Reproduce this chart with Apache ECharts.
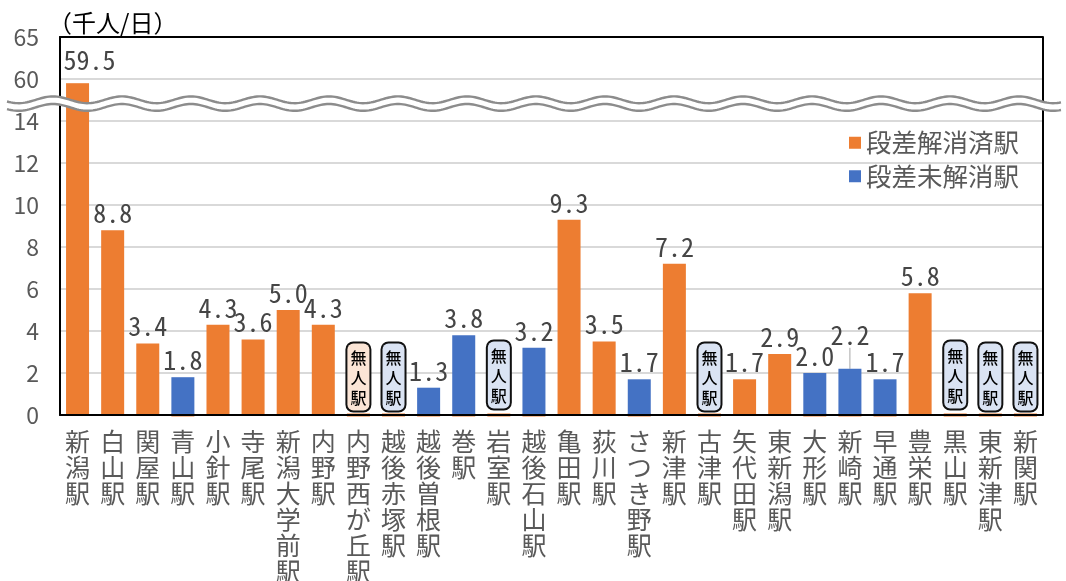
<!DOCTYPE html>
<html><head><meta charset="utf-8">
<script src="https://cdn.jsdelivr.net/npm/echarts@6/dist/echarts.min.js"></script>
<style>html,body{margin:0;padding:0;background:#fff}#c{width:1066px;height:581px}</style>
</head><body><div id="c"></div>
<script>
const stations = ['新潟駅','白山駅','関屋駅','青山駅','小針駅','寺尾駅','新潟大学前駅','内野駅','内野西が丘駅','越後赤塚駅','越後曽根駅','巻駅','岩室駅','越後石山駅','亀田駅','荻川駅','さつき野駅','新津駅','古津駅','矢代田駅','東新潟駅','大形駅','新崎駅','早通駅','豊栄駅','黒山駅','東新津駅','新関駅'];
const resolved   = [59.5,8.8,3.4,0,4.3,3.6,5.0,4.3,0,0,0,0,0,0,9.3,3.5,0,7.2,0,1.7,2.9,0,0,0,5.8,0,0,0];
const unresolved = [0,0,0,1.8,0,0,0,0,0,0,1.3,3.8,0,3.2,0,0,1.7,0,0,0,0,2.0,2.2,1.7,0,0,0,0];
const unstaffedResolved = ['内野西が丘駅'];
const unstaffedUnresolved = ['越後赤塚駅','岩室駅','古津駅','黒山駅','東新津駅','新関駅'];
const labelNudge = {'新潟駅':[12,-6],'新崎駅':[0,-17],'岩室駅':[0,-2],'黒山駅':[0,-2]};
const ORANGE='#ed7d31', BLUE='#4472c4', TXT='#595959';
const FONT='"Noto Sans CJK JP","Noto Sans",sans-serif';
const NUMFONT='"Noto Sans Mono CJK JP","Noto Sans CJK JP",monospace';
const chart = echarts.init(document.getElementById('c'),null,{renderer:'canvas'});

const L=60,R=1043,T=37,M=121,B=415;
function wave(yc){const pts=[];for(let x=7;x<=1062;x+=2){pts.push([x,yc-3.4*Math.cos((x-53)/69*2*Math.PI)]);}return pts;}
const waveUp=wave(99.8), waveLo=wave(107.4);

function fmtValue(lo,hi){return p=>{const v=p.value; return (v>0&&v>=lo&&v<=hi)?v.toFixed(1):'';};}
function badge(bg){return {show:true,position:'top',distance:3,formatter:'無\n人\n駅',color:'#000',fontSize:16,fontWeight:500,lineHeight:20,fontFamily:FONT,
  backgroundColor:bg,borderColor:'#111',borderWidth:2,borderRadius:6,padding:[4,3,3,3]};}
const valLabel=(lo,hi)=>({show:true,position:'top',distance:4,formatter:fmtValue(lo,hi),color:'#454545',fontSize:26,fontWeight:'normal',fontFamily:NUMFONT});
const layout=p=>{const n=labelNudge[stations[p.dataIndex]];return n?{dx:n[0],dy:n[1]}:{};};

const zeroStrip={color:ORANGE,borderColor:ORANGE,borderWidth:3};
const lowerResolved=resolved.map((v,i)=>{
  if(unstaffedResolved.includes(stations[i])) return {value:v,label:badge('#fbe5d6'),itemStyle:zeroStrip};
  if(unstaffedUnresolved.includes(stations[i])) return {value:v,label:badge('#dae3f3'),itemStyle:zeroStrip};
  return v===0?{value:v,itemStyle:zeroStrip}:v;});
const lowerUnresolved=unresolved.map((v,i)=>{
  if(!(v>0)) return null;
  return labelNudge[stations[i]]?{value:v,labelLine:{show:true,lineStyle:{color:'#a6a6a6',width:1}}}:v;});

const sharedBar={type:'bar',barWidth:23,barGap:'-100%',animation:false};
const xAx=(gi,extra)=>Object.assign({type:'category',gridIndex:gi,data:stations,axisTick:{show:false},z:6},extra);

chart.setOption({
  backgroundColor:'#fff',
  animation:false,
  textStyle:{fontFamily:FONT},
  title:{text:'（千人/日）',left:43,top:6,textStyle:{fontSize:24,fontWeight:'normal',color:'#000',fontFamily:FONT}},
  legend:{orient:'vertical',left:844,top:125,itemWidth:12,itemHeight:12,itemGap:8,icon:'rect',selectedMode:false,
    textStyle:{fontSize:25.5,color:TXT,fontFamily:FONT},data:['段差解消済駅','段差未解消駅']},
  grid:[
    {left:L,right:1066-R,top:T,height:M-T,outerBoundsMode:'none'},
    {left:L,right:1066-R,top:M,height:B-M,outerBoundsMode:'none'}
  ],
  xAxis:[
    xAx(0,{position:'top',axisLabel:{show:false},axisLine:{show:true,onZero:false,lineStyle:{color:'#000',width:2}}}),
    xAx(1,{position:'bottom',axisLine:{onZero:false,lineStyle:{color:'#000',width:2}},
      axisLabel:{interval:0,color:TXT,fontSize:25,lineHeight:26,fontFamily:FONT,margin:13,verticalAlign:'top',
        formatter:s=>s.split('').join('\n')}})
  ],
  yAxis:[
    {type:'value',gridIndex:0,min:55,max:65,interval:5,axisLine:{show:true,lineStyle:{color:'#000',width:2}},axisTick:{show:false},
      axisLabel:{color:TXT,fontSize:23,margin:21,showMinLabel:false,fontFamily:FONT},
      splitLine:{showMinLine:false,showMaxLine:false,lineStyle:{color:'#d9d9d9',width:2}}},
    {type:'value',gridIndex:1,min:0,max:14,interval:2,axisLine:{show:true,lineStyle:{color:'#000',width:2}},axisTick:{show:false},
      axisLabel:{color:TXT,fontSize:23,margin:21,fontFamily:FONT},
      splitLine:{lineStyle:{color:'#d9d9d9',width:2}}}
  ],
  series:[
    Object.assign({},sharedBar,{name:'段差解消済駅',xAxisIndex:0,yAxisIndex:0,data:resolved.map(v=>v>=55?v:null),
      itemStyle:{color:ORANGE},label:valLabel(55,65),labelLayout:layout}),
    Object.assign({},sharedBar,{name:'段差解消済駅',xAxisIndex:1,yAxisIndex:1,data:lowerResolved,
      itemStyle:{color:ORANGE},label:valLabel(0,14),labelLayout:layout,z:3}),
    Object.assign({},sharedBar,{name:'段差未解消駅',xAxisIndex:1,yAxisIndex:1,data:lowerUnresolved,
      itemStyle:{color:BLUE},label:valLabel(0,14),labelLayout:layout,z:4})
  ],
  graphic:[
    {type:'line',z:50,shape:{x1:R,y1:T,x2:R,y2:B},style:{stroke:'#000',lineWidth:2}},
    {type:'polygon',z:60,shape:{points:waveUp.concat(waveLo.slice().reverse())},style:{fill:'#fff',stroke:'none'}},
    {type:'polyline',z:61,shape:{points:waveUp},style:{fill:'none',stroke:'#8c8c8c',lineWidth:2.4}},
    {type:'polyline',z:61,shape:{points:waveLo},style:{fill:'none',stroke:'#8c8c8c',lineWidth:2.4}}
  ]
});
</script></body></html>
